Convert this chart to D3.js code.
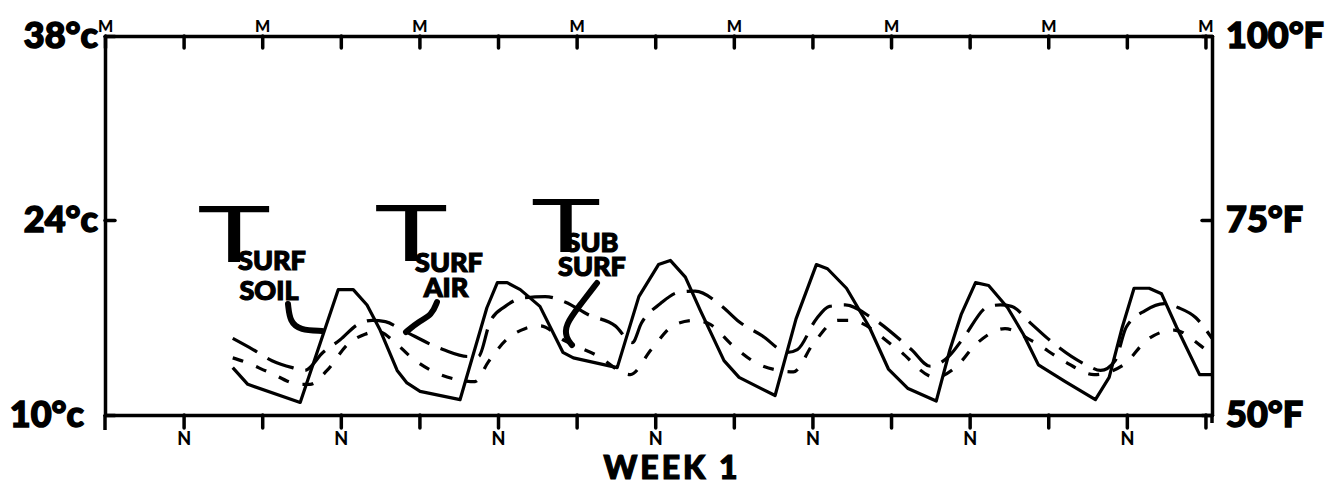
<!DOCTYPE html>
<html>
<head>
<meta charset="utf-8">
<script src="https://cdn.jsdelivr.net/npm/d3@7"></script>
<style>
body { margin: 0; background: #fff; }
svg { display: block; }
.hand { font-family: Lato, 'DejaVu Sans', sans-serif; font-weight: 900; fill: #000; stroke: #000; stroke-width: 1.2; }
.bigT { font-family: Lato, 'DejaVu Sans', sans-serif; font-weight: 400; fill: #000; }
.axis path, .axis line { stroke: #000; stroke-width: 3.5; stroke-linecap: round; }
.axis text { font-family: Lato, 'DejaVu Sans', sans-serif; font-weight: 900; fill: #000; }
.big text { stroke: #000; stroke-width: 1.5; }
.series { fill: none; stroke: #000; stroke-width: 3.2; stroke-linejoin: round; }
</style>
</head>
<body>
<div id="chart"></div>
<script>
// hours since the first midnight of the week, temperatures in degrees C
var soilHours = [19.5, 21.8, 29.8, 35.6, 37.9, 40.0, 42.0, 44.6, 46.1, 48.1, 54.2, 58.3, 59.9, 61.4, 63.4,
    66.4, 69.9, 71.5, 78.2, 81.5, 84.5, 86.3, 88.6, 90.9, 94.5, 96.8, 102.3, 105.5, 108.6, 110.3,
    113.2, 116.7, 119.6, 122.6, 126.9, 129.0, 130.7, 132.9, 134.9, 137.8, 140.2, 142.5, 146.6, 151.2,
    153.3, 155.3, 157.1, 159.4, 161.3, 163.6, 167.1, 169];
var soilTemps = [13.4, 12.2, 10.9, 19.0, 19.0, 17.9, 16.1, 13.2, 12.3, 11.7, 11.1, 17.7, 19.5, 19.5, 19.0,
    17.8, 14.5, 14.1, 13.4, 18.5, 20.8, 21.1, 19.9, 17.5, 13.9, 12.7, 11.4, 16.9, 20.8, 20.5,
    19.1, 16.3, 13.3, 11.9, 11.0, 14.7, 17.2, 19.5, 19.3, 17.7, 15.8, 13.6, 12.4, 11.1,
    12.7, 16.3, 19.1, 19.1, 18.7, 16.3, 12.9, 12.9];

var airHours = [19.5, 22.6, 25.5, 28.6, 30.5, 33.3, 35.9, 38.6, 40.8, 42.8, 45.4, 51.6, 55.4, 57.0, 58.8,
    61.1, 63.8, 67.2, 70.3, 73.8, 77.9, 80.5, 81.9, 84.8, 87.5, 90.1, 94.2, 96.8, 100.3, 104.2,
    105.7, 108.6, 110.6, 113.0, 117.0, 123.1, 126.0, 129.0, 131.0, 134.9, 136.7, 138.4, 141.3, 143.9,
    149.8, 152.0, 154.2, 155.9, 158.8, 161.7, 163.9, 166.5, 169];
var airTemps = [15.5, 14.7, 13.9, 13.4, 13.2, 14.5, 15.4, 16.5, 16.8, 16.7, 16.1, 14.7, 14.2, 14.2, 16.7,
    17.8, 18.4, 18.5, 18.1, 17.2, 16.4, 15.2, 16.6, 18.0, 18.8, 18.9, 17.8, 16.7, 15.7, 14.5,
    14.7, 16.9, 17.8, 17.9, 17.0, 14.7, 13.5, 14.3, 15.5, 17.8, 17.9, 17.8, 16.6, 15.5,
    13.6, 13.2, 13.9, 16.3, 17.5, 18.0, 17.7, 17.0, 15.5];

var subHours = [19.5, 21.4, 24.9, 29.8, 31.3, 33.9, 37.1, 39.7, 41.7, 44.3, 46.6, 49.8, 54.2, 56.5, 58.5,
    61.5, 64.1, 66.4, 70.3, 75.0, 80.2, 83.4, 87.0, 90.1, 92.4, 95.8, 100.0, 105.1, 108.1, 111.9,
    113.8, 120.8, 126.8, 129.8, 133.0, 137.4, 141.6, 146.3, 151.0, 155.5, 159.1, 163.2, 167.2, 169];
var subTemps = [14.1, 13.8, 13.1, 12.2, 12.2, 13.2, 15.1, 15.8, 16.0, 15.2, 14.2, 13.2, 12.5, 12.4, 13.8,
    15.5, 16.2, 16.4, 15.3, 14.3, 12.9, 14.7, 16.5, 16.8, 16.5, 15.0, 13.6, 13.1, 15.1, 16.8,
    16.8, 14.8, 12.7, 13.4, 15.1, 16.2, 15.3, 13.9, 12.9, 13.6, 15.4, 16.1, 15.0, 14.3];

var celsiusTicks = [10, 24, 38];
var fahrenheitTicks = [50, 75, 100];
var clockTicks = [0, 12, 24, 36, 48, 60, 72, 84, 96, 108, 120, 132, 144, 156, 168];

var margin = { top: 36, left: 105, bottom: 71, right: 122 },
    width = 1334 - margin.left - margin.right,
    height = 486 - margin.top - margin.bottom;

var root = d3.select('#chart').append('svg')
    .attr('width', 1334)
    .attr('height', 486);

var svg = root.append('g')
    .attr('transform', 'translate(' + margin.left + ',' + margin.top + ')');

// hand drawn axis is not quite even, so the scale has a middle stop
var x = d3.scaleLinear().domain([0, 169]).range([0, width]);
var y = d3.scaleLinear().domain([10, 24, 38]).range([height, 184, 0]);
var yF = d3.scaleLinear().domain([50, 75, 100]).range([height, 184, 0]);

///////////////////////////////////////////////////////////////
// axes
///////////////////////////////////////////////////////////////

var topAxis = d3.axisTop(x)
    .tickValues(clockTicks)
    .tickSize(-12)
    .tickSizeOuter(0)
    .tickPadding(4)
    .tickFormat(d => d % 24 === 0 ? 'M' : '');

svg.append('g')
    .attr('class', 'axis')
    .call(topAxis)
    .selectAll('text')
    .style('font-size', '16px');

var bottomAxis = d3.axisBottom(x)
    .tickValues(clockTicks.slice(1))
    .tickSize(13)
    .tickSizeOuter(0)
    .tickPadding(4)
    .tickFormat(d => d % 24 === 12 ? 'N' : '');

svg.append('g')
    .attr('class', 'axis')
    .attr('transform', 'translate(0,' + height + ')')
    .call(bottomAxis)
    .selectAll('text')
    .style('font-size', '18px');

var leftAxis = d3.axisLeft(y)
    .tickValues(celsiusTicks)
    .tickSize(-10)
    .tickSizeOuter(0)
    .tickPadding(7)
    .tickFormat(d => d + '°c');

svg.append('g')
    .attr('class', 'axis big')
    .call(leftAxis)
    .selectAll('text')
    .style('font-size', '36px')
    .attr('dx', d => d === 10 ? -14 : 0);

var rightAxis = d3.axisRight(yF)
    .tickValues(fahrenheitTicks)
    .tickSize(-10)
    .tickSizeOuter(0)
    .tickPadding(14)
    .tickFormat(d => d + '°F');

svg.append('g')
    .attr('class', 'axis big')
    .attr('transform', 'translate(' + width + ',0)')
    .call(rightAxis)
    .selectAll('text')
    .style('font-size', '36px');

// the side lines run a little past the bottom line
svg.append('line')
    .attr('x1', 0).attr('x2', 0)
    .attr('y1', height).attr('y2', height + 15)
    .attr('stroke', '#000').attr('stroke-width', 3.5);
svg.append('line')
    .attr('x1', width).attr('x2', width)
    .attr('y1', height).attr('y2', height + 8)
    .attr('stroke', '#000').attr('stroke-width', 3.5);

svg.append('text')
    .attr('class', 'hand')
    .attr('x', 567)
    .attr('y', height + 64)
    .attr('text-anchor', 'middle')
    .style('font-size', '32px')
    .style('letter-spacing', '3px')
    .text('WEEK 1');

///////////////////////////////////////////////////////////////
// the three temperature traces
///////////////////////////////////////////////////////////////

var soil = d3.zip(soilHours, soilTemps);
var air = d3.zip(airHours, airTemps);
var sub = d3.zip(subHours, subTemps);

var straight = d3.line()
    .x(d => x(d[0]))
    .y(d => y(d[1]));

var smooth = d3.line()
    .curve(d3.curveMonotoneX)
    .x(d => x(d[0]))
    .y(d => y(d[1]));

svg.append('path')
    .attr('class', 'series')
    .attr('d', straight(soil));

svg.append('path')
    .attr('class', 'series')
    .attr('stroke-dasharray', '28,12')
    .attr('d', smooth(air));

svg.append('path')
    .attr('class', 'series')
    .attr('stroke-dasharray', '11,14')
    .attr('d', smooth(sub));

///////////////////////////////////////////////////////////////
// labels with leader strokes
///////////////////////////////////////////////////////////////

var labels = [
    { tx: 234, ty: 262, size: 78, sub1: 'SURF', sub2: 'SOIL', s1x: 272, s1y: 270, s2x: 269, s2y: 300,
      lead: [[288, 304], [290, 322], [300, 330], [322, 331]] },
    { tx: 411, ty: 261, size: 78, sub1: 'SURF', sub2: 'AIR', s1x: 449, s1y: 272, s2x: 446, s2y: 297,
      lead: [[437, 302], [432, 315], [418, 322], [406, 332]] },
    { tx: 566, ty: 252, size: 74, sub1: 'SUB', sub2: 'SURF', s1x: 592, s1y: 252, s2x: 592, s2y: 276,
      lead: [[597, 283], [580, 305], [565, 325], [566, 338], [572, 345]] }
];

var lead = d3.line().curve(d3.curveBasis);

labels.forEach(function (l) {
    root.append('text')
        .attr('class', 'bigT')
        .attr('text-anchor', 'middle')
        .attr('transform', 'translate(' + l.tx + ',' + l.ty + ') scale(1.6,1)')
        .style('font-size', l.size + 'px')
        .text('T');

    root.append('text')
        .attr('class', 'hand')
        .attr('x', l.s1x).attr('y', l.s1y)
        .attr('text-anchor', 'middle')
        .style('font-size', '27px')
        .text(l.sub1);

    root.append('text')
        .attr('class', 'hand')
        .attr('x', l.s2x).attr('y', l.s2y)
        .attr('text-anchor', 'middle')
        .style('font-size', '27px')
        .text(l.sub2);

    root.append('path')
        .attr('d', lead(l.lead))
        .attr('fill', 'none')
        .attr('stroke', '#000')
        .attr('stroke-width', 6)
        .attr('stroke-linecap', 'round');
});
</script>
</body>
</html>
